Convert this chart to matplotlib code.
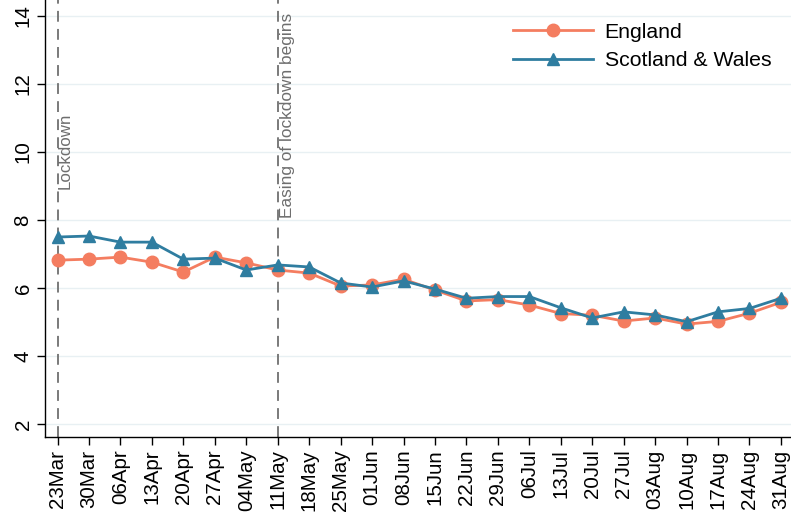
import matplotlib
matplotlib.use("Agg")
import matplotlib.pyplot as plt
import numpy as np

plt.rcParams['font.family'] = ['Liberation Sans', 'DejaVu Sans']

weeks = ["23Mar", "30Mar", "06Apr", "13Apr", "20Apr", "27Apr", "04May", "11May",
         "18May", "25May", "01Jun", "08Jun", "15Jun", "22Jun", "29Jun", "06Jul",
         "13Jul", "20Jul", "27Jul", "03Aug", "10Aug", "17Aug", "24Aug", "31Aug"]
england = [6.82, 6.85, 6.91, 6.76, 6.47, 6.91, 6.74, 6.53, 6.44, 6.06, 6.09, 6.26,
           5.94, 5.62, 5.66, 5.50, 5.25, 5.20, 5.03, 5.12, 4.94, 5.02, 5.26, 5.58]
scot_wales = [7.50, 7.53, 7.35, 7.35, 6.85, 6.88, 6.53, 6.68, 6.62, 6.15, 6.03, 6.21,
              5.97, 5.70, 5.75, 5.75, 5.42, 5.12, 5.30, 5.21, 5.01, 5.30, 5.40, 5.70]
yticks = [2, 4, 6, 8, 10, 12, 14]
events = {"23Mar": "Lockdown", "11May": "Easing of lockdown begins"}

c_eng = "#F47D60"
c_sw = "#2F7DA0"

fig = plt.figure(figsize=(7.91, 5.18), dpi=100)
ax = fig.add_axes([45/791, 1 - 437/518, 1 - 45/791, 437/518])

x = np.arange(len(weeks))
for yt in yticks:
    ax.axhline(yt, color="#E8F0F3", lw=1.0, zorder=0)

for wk, lab in events.items():
    xi = weeks.index(wk)
    ax.axvline(xi, color="#707070", lw=1.3, dashes=(6, 4), zorder=1)

ax.text(0.25, 8.9, "Lockdown", rotation=90, ha="center", va="bottom",
        color="#6E6E6E", fontsize=12.2)
ax.text(7.31, 8.05, "Easing of lockdown begins", rotation=90, ha="center", va="bottom",
        color="#6E6E6E", fontsize=12.4)

ax.plot(x, england, color=c_eng, lw=2.0, marker="o", ms=9, label="England", zorder=3)
ax.plot(x, scot_wales, color=c_sw, lw=2.0, marker="^", ms=8.5, label="Scotland & Wales", zorder=4)

ax.set_xlim(-0.40, 23.32)
ax.set_ylim(1.62, 14.47)
ax.set_xticks(x)
ax.set_xticklabels(weeks, rotation=90, fontsize=14.8)
ax.set_yticks(yticks)
ax.set_yticklabels([str(v) for v in yticks], rotation=90, va="center", fontsize=14.8)
ax.tick_params(axis="both", length=6, width=1.0, color="black", pad=3)

for s in ["top", "right"]:
    ax.spines[s].set_visible(False)
for s in ["left", "bottom"]:
    ax.spines[s].set_color("black")
    ax.spines[s].set_linewidth(1.0)

leg = ax.legend(loc="upper left", bbox_to_anchor=(0.602, 0.992), frameon=False,
                fontsize=15.3, handlelength=3.75, handletextpad=0.55, labelspacing=0.45)

fig.savefig("out.png", dpi=100)
